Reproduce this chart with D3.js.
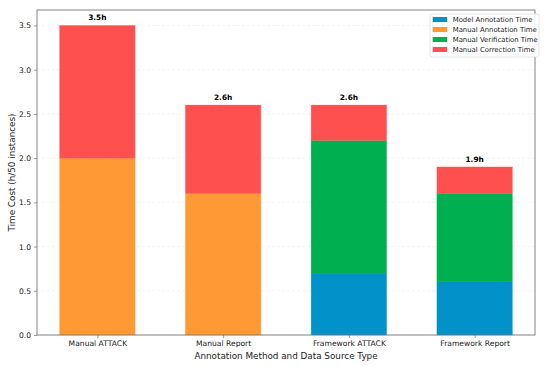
<!DOCTYPE html>
<html>
<head>
<meta charset="utf-8">
<style>
  body { margin: 0; background: #fff; }
  svg { font-family: "DejaVu Sans", sans-serif; }
  .grid line { stroke: #ececec; stroke-dasharray: 3,2; stroke-width: 0.6; }
</style>
</head>
<body>
<script src="https://cdn.jsdelivr.net/npm/d3@7"></script>
<script>
const categories = ["Manual ATTACK", "Manual Report", "Framework ATTACK", "Framework Report"];
const modelAnnotation = [0, 0, 0.7, 0.6];
const manualAnnotation = [2.0, 1.6, 0, 0];
const manualVerification = [0, 0, 1.5, 1.0];
const manualCorrection = [1.5, 1.0, 0.4, 0.3];
const totalLabels = ["3.5h", "2.6h", "2.6h", "1.9h"];
const yTicks = [0, 0.5, 1.0, 1.5, 2.0, 2.5, 3.0, 3.5];

const seriesNames = ["Model Annotation Time", "Manual Annotation Time", "Manual Verification Time", "Manual Correction Time"];
const seriesValues = [modelAnnotation, manualAnnotation, manualVerification, manualCorrection];
const colors = ["#0092c8", "#ff9933", "#00b050", "#ff5050"];

const width = 550, height = 366;
const margin = {top: 10, right: 15, bottom: 31, left: 37};

const svg = d3.select("body").append("svg")
    .attr("width", width)
    .attr("height", height);

const x = d3.scaleLinear().domain([-0.48, 3.48]).range([margin.left, width - margin.right]);
const y = d3.scaleLinear().domain([0, 3.675]).range([height - margin.bottom, margin.top]);
const barW = x(0.6) - x(0);

// grid
svg.append("g").attr("class", "grid")
    .selectAll("line").data(yTicks).enter().append("line")
    .attr("x1", margin.left).attr("x2", width - margin.right)
    .attr("y1", d => y(d)).attr("y2", d => y(d));

// stacked bars
const stacks = categories.map((c, i) => {
    let base = 0;
    return seriesValues.map((s, k) => {
        const seg = {i, k, y0: base, y1: base + s[i]};
        base += s[i];
        return seg;
    }).filter(d => d.y1 > d.y0);
});

svg.append("g").selectAll("rect")
    .data(stacks.flat()).enter().append("rect")
    .attr("x", d => x(d.i) - barW / 2)
    .attr("width", barW)
    .attr("y", d => y(d.y1))
    .attr("height", d => y(d.y0) - y(d.y1))
    .attr("fill", d => colors[d.k])
    .attr("stroke", d => colors[d.k])
    .attr("stroke-opacity", 0.5)
    .attr("stroke-width", 0.6);

// totals
svg.append("g").selectAll("text")
    .data(categories).enter().append("text")
    .attr("x", (d, i) => x(i))
    .attr("y", (d, i) => y(d3.sum(seriesValues, s => s[i])) - 5)
    .attr("text-anchor", "middle")
    .attr("font-size", 7.4)
    .attr("font-weight", "bold")
    .text((d, i) => totalLabels[i]);

// axes
const yAxis = svg.append("g")
    .attr("transform", `translate(${margin.left},0)`)
    .call(d3.axisLeft(y).tickValues(yTicks).tickFormat(d3.format(".1f")).tickSize(3).tickPadding(3));
const xAxis = svg.append("g")
    .attr("transform", `translate(0,${height - margin.bottom})`)
    .call(d3.axisBottom(x).tickValues([0, 1, 2, 3]).tickFormat(i => categories[i]).tickSize(3).tickPadding(3));
[xAxis, yAxis].forEach(a => {
    a.select(".domain").remove();
    a.selectAll("text").attr("font-size", 7.6).attr("fill", "#222").attr("font-family", "DejaVu Sans");
    a.selectAll("line").attr("stroke", "#555").attr("stroke-width", 0.6);
});

// frame
svg.append("rect")
    .attr("x", margin.left).attr("y", margin.top)
    .attr("width", width - margin.left - margin.right)
    .attr("height", height - margin.top - margin.bottom)
    .attr("fill", "none").attr("stroke", "#777").attr("stroke-width", 0.9);

// axis labels
svg.append("text")
    .attr("x", x(1.5)).attr("y", height - 7)
    .attr("text-anchor", "middle").attr("font-size", 8.8).attr("fill", "#222")
    .text("Annotation Method and Data Source Type");
svg.append("text")
    .attr("transform", `translate(15,${(margin.top + height - margin.bottom) / 2}) rotate(-90)`)
    .attr("text-anchor", "middle").attr("font-size", 8.8).attr("fill", "#222")
    .text("Time Cost (h/50 instances)");

// legend
const lg = svg.append("g").attr("transform", "translate(430,14)");
lg.append("rect").attr("width", 109).attr("height", 43)
    .attr("rx", 2).attr("fill", "#fff").attr("fill-opacity", 0.85)
    .attr("stroke", "#ddd").attr("stroke-width", 0.7);
const items = lg.selectAll("g.item").data(seriesNames).enter().append("g")
    .attr("transform", (d, i) => `translate(2.7,${3 + i * 10})`);
items.append("rect").attr("width", 14.5).attr("height", 5).attr("fill", (d, i) => colors[i]);
items.append("text").attr("x", 20).attr("y", 5)
    .attr("font-size", 6.9).attr("fill", "#222").text(d => d);
</script>
</body>
</html>
